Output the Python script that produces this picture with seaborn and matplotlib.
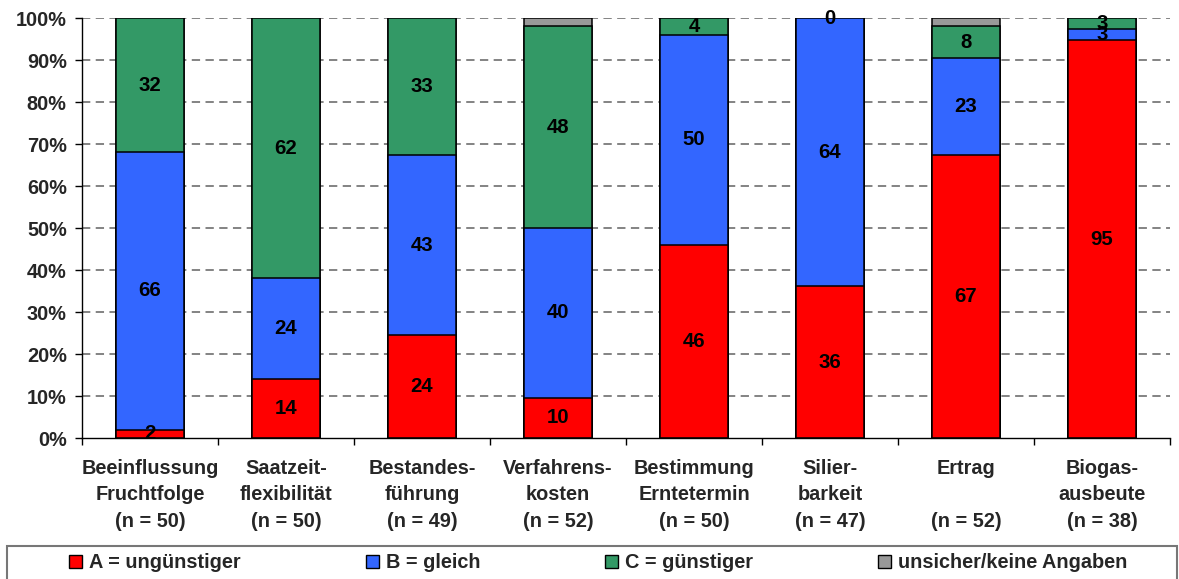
import numpy as np
import pandas as pd
import matplotlib
matplotlib.use("Agg")
import matplotlib.pyplot as plt
from matplotlib.patches import Patch, Rectangle
from matplotlib.ticker import FixedLocator, FuncFormatter
import seaborn as sns

# Survey answers per criterion (counts of respondents)
categories = ["Beeinflussung\nFruchtfolge", "Saatzeit-\nflexibilität", "Bestandes-\nführung",
              "Verfahrens-\nkosten", "Bestimmung\nErntetermin", "Silier-\nbarkeit",
              "Ertrag\n", "Biogas-\nausbeute"]
n_resp = [50, 50, 49, 52, 50, 47, 52, 38]
count_a = [1, 7, 12, 5, 23, 17, 35, 36]
count_b = [33, 12, 21, 21, 25, 30, 12, 1]
count_c = [16, 31, 16, 25, 2, 0, 4, 1]
count_unsure = [0, 0, 0, 1, 0, 0, 1, 0]
series_names = ["A = ungünstiger", "B = gleich", "C = günstiger", "unsicher/keine Angaben"]
series_colors = ["#FF0000", "#3366FF", "#339966", "#999999"]
y_ticks = [0, 10, 20, 30, 40, 50, 60, 70, 80, 90, 100]

sns.set_theme(style="white")
plt.rcParams["font.family"] = ["Liberation Sans", "DejaVu Sans"]
plt.rcParams["font.weight"] = "bold"
plt.rcParams["axes.labelweight"] = "bold"

FS = 14.3
n_arr = np.array(n_resp, dtype=float)
pct = [np.array(c, dtype=float) / n_arr * 100 for c in (count_a, count_b, count_c, count_unsure)]
cum = np.cumsum(pct, axis=0)
xlabels = [f"{c}\n(n = {n})" for c, n in zip(categories, n_resp)]

fig = plt.figure(figsize=(11.79, 5.79), dpi=100)
ax = fig.add_axes([82 / 1179, 1 - 438 / 579, (1170 - 82) / 1179, (438 - 18) / 579])

# stacked bars: draw cumulative layers from the top segment down
for j in range(3, -1, -1):
    df = pd.DataFrame({"Kriterium": xlabels, "Anteil": cum[j]})
    sns.barplot(data=df, x="Kriterium", y="Anteil", color=series_colors[j], saturation=1,
                width=0.5, edgecolor="black", linewidth=1.1, errorbar=None, ax=ax, zorder=2)

# segment value labels (A, B, C)
for j in range(3):
    bottoms = cum[j] - pct[j]
    for i in range(len(categories)):
        v = pct[j][i]
        ax.text(i, bottoms[i] + v / 2, f"{int(round(v))}", ha="center", va="center",
                fontsize=FS + 0.4, fontweight="bold", color="black", zorder=5)

ax.set_ylim(0, 100)
ax.set_xlim(-0.5, len(categories) - 0.5)
ax.set_xlabel("")
ax.set_ylabel("")

ax.yaxis.set_major_locator(FixedLocator(y_ticks))
ax.yaxis.set_major_formatter(FuncFormatter(lambda v, p: f"{int(v)}%"))
ax.yaxis.grid(True, color="#7a7a7a", linewidth=1.3, linestyle=(0, (4.6, 3.0)))
ax.xaxis.grid(False)
ax.set_axisbelow(True)
ax.yaxis.get_major_ticks()[0].gridline.set_visible(False)

# category boundaries as major x ticks, labels on minor ticks at bar centres
ax.xaxis.set_major_locator(FixedLocator(np.arange(-0.5, len(categories), 1.0)))
ax.xaxis.set_major_formatter(FuncFormatter(lambda v, p: ""))
ax.xaxis.set_minor_locator(FixedLocator(np.arange(len(categories))))
ax.set_xticklabels(xlabels, minor=True)
ax.tick_params(axis="x", which="major", direction="out", length=5, width=1, color="black", bottom=True)
ax.tick_params(axis="x", which="minor", length=0, pad=15, labelsize=FS)
ax.tick_params(axis="y", which="major", direction="out", length=5, width=1, color="black",
               left=True, pad=6, labelsize=FS)
for lbl in ax.get_xticklabels(minor=True):
    lbl.set_fontweight("bold")
    lbl.set_linespacing(1.5)
for lbl in ax.get_yticklabels():
    lbl.set_fontweight("bold")

for side in ("top", "right"):
    ax.spines[side].set_visible(False)
for side in ("left", "bottom"):
    ax.spines[side].set_color("black")
    ax.spines[side].set_linewidth(1.0)
    ax.spines[side].set_zorder(3)

# legend strip along the bottom
handles = [Patch(facecolor=c, edgecolor="black", linewidth=1.0) for c in series_colors]
fig.legend(handles, series_names, loc="center", bbox_to_anchor=(598.5 / 1179, 1 - 563 / 579),
           ncol=4, frameon=False, prop={"weight": "bold", "size": FS},
           handlelength=0.65, handleheight=0.65, handletextpad=0.35, columnspacing=6.3,
           borderpad=0)
fig.patches.append(Rectangle((7 / 1179, -0.05), (1177 - 7) / 1179, 0.05 + (1 - 546 / 579),
                             transform=fig.transFigure, fill=False, edgecolor="#777777",
                             linewidth=1.5, figure=fig))

fig.savefig("out.png", dpi=100)
